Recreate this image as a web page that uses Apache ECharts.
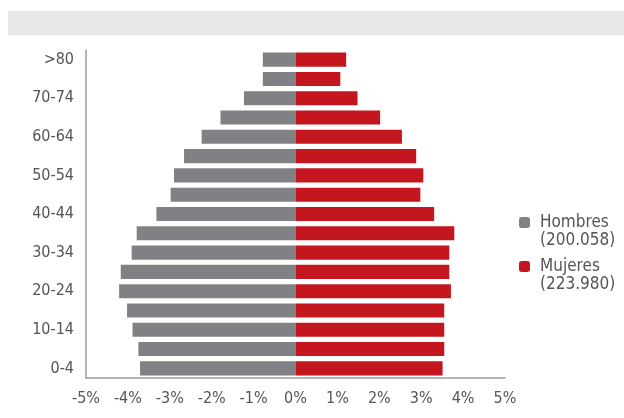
<!DOCTYPE html>
<html>
<head>
<meta charset="utf-8">
<script src="https://cdn.jsdelivr.net/npm/echarts@6/dist/echarts.min.js"></script>
<style>
html,body{margin:0;padding:0;background:#fff;}
#band{position:absolute;left:8px;top:11px;width:616px;height:24px;background:#e6e7e8;}
#chart{position:absolute;left:0;top:0;width:624px;height:418px;}
</style>
</head>
<body>
<div id="band"></div>
<div id="chart"></div>
<script>
var categories = ['0-4','5-9','10-14','15-19','20-24','25-29','30-34','35-39','40-44','45-49','50-54','55-59','60-64','65-69','70-74','75-79','>80'];
var hombres = [3.71,3.75,3.89,4.02,4.21,4.17,3.91,3.79,3.32,2.98,2.90,2.66,2.24,1.79,1.23,0.78,0.78];
var mujeres = [3.51,3.55,3.55,3.55,3.71,3.67,3.67,3.79,3.31,2.98,3.05,2.88,2.54,2.02,1.48,1.07,1.21];
var seriesNames = ['Hombres','Mujeres'];
var seriesTotals = ['200.058','223.980'];
var xTicks = [-5,-4,-3,-2,-1,0,1,2,3,4,5];

var FONT = '"Liberation Sans Narrow","DejaVu Sans Condensed",sans-serif';
function makeLegend(i, top){
  return {
    orient:'vertical', left:514, top:top, itemWidth:11, itemHeight:11,
    data:[seriesNames[i]],
    formatter:function(n){ return '{e| }\n{a|' + n + '}\n{a|(' + seriesTotals[seriesNames.indexOf(n)] + ')}'; },
    textStyle:{fontFamily:FONT,fontSize:17,color:'#555',
      rich:{e:{fontSize:17,lineHeight:18,fontFamily:FONT},
            a:{fontSize:17,lineHeight:18,fontFamily:FONT,color:'#555',padding:[0,0,0,5]}}}
  };
}
var chart = echarts.init(document.getElementById('chart'), null, {renderer:'canvas'});
chart.setOption({
  animation:false,
  grid:{left:86,right:119,top:50,bottom:40,containLabel:false},
  legend:[makeLegend(0,191), makeLegend(1,235)],
  xAxis:{
    type:'value', min:xTicks[0], max:xTicks[xTicks.length-1], interval:1,
    axisLine:{show:true,lineStyle:{color:'#9d9d9d',width:1.5}},
    axisTick:{show:false}, splitLine:{show:false},
    axisLabel:{fontFamily:FONT,fontSize:16,color:'#555',margin:13,formatter:function(v){return v+'%';}}
  },
  yAxis:{
    type:'category', data:categories,
    axisLine:{show:true,onZero:false,lineStyle:{color:'#9d9d9d',width:1.5}},
    axisTick:{show:false},
    axisLabel:{interval:1,fontFamily:FONT,fontSize:16,color:'#555',margin:12}
  },
  series:[
    {name:seriesNames[0],type:'bar',stack:'pop',barCategoryGap:'27%',
     itemStyle:{color:'#808184'},data:hombres.map(function(v){return -v;})},
    {name:seriesNames[1],type:'bar',stack:'pop',barCategoryGap:'27%',
     itemStyle:{color:'#c3161f'},data:mujeres}
  ]
});
</script>
</body>
</html>
